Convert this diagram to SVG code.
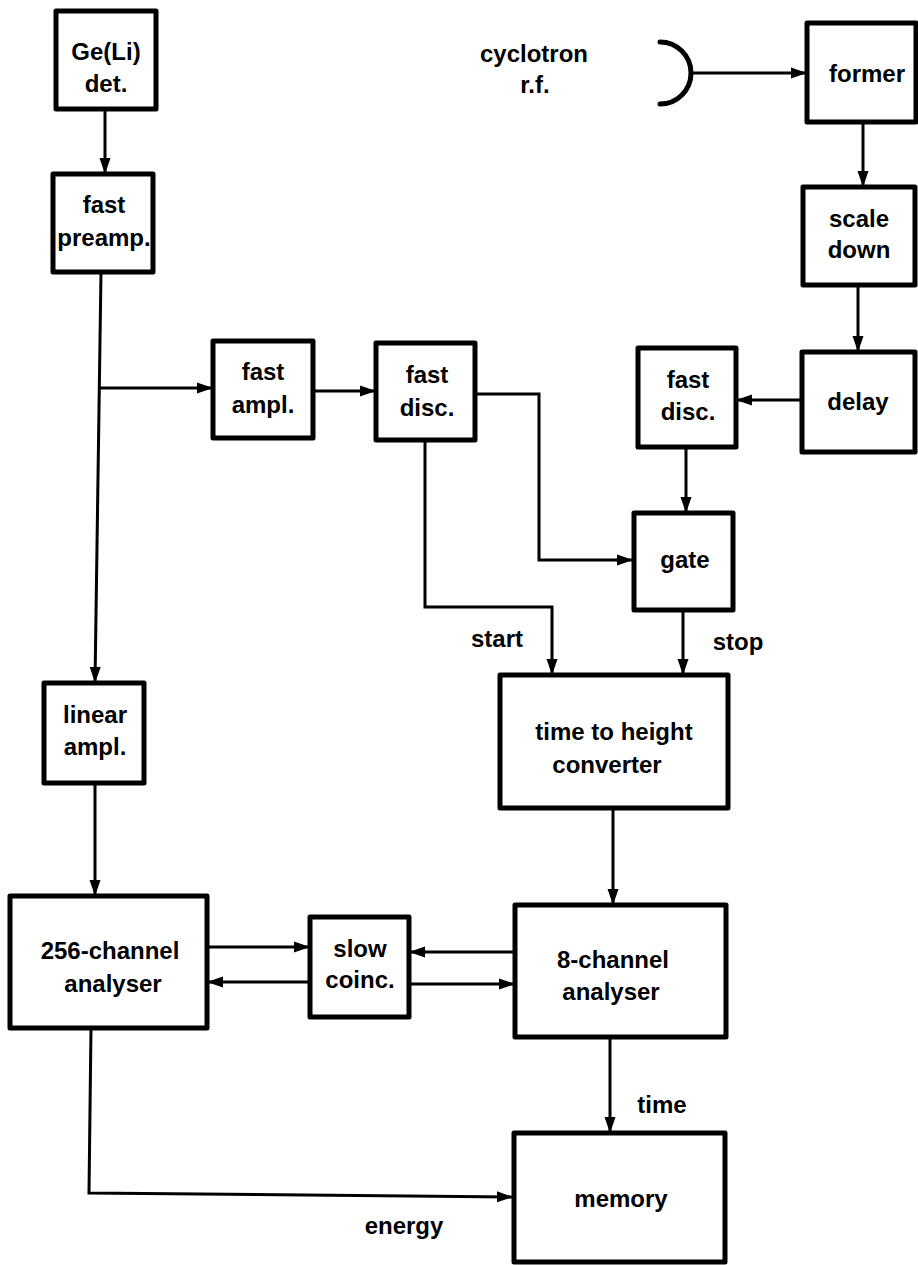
<svg xmlns="http://www.w3.org/2000/svg" width="918" height="1265" viewBox="0 0 918 1265">
<defs>
<marker id="ah" markerUnits="userSpaceOnUse" markerWidth="18" markerHeight="12" refX="16" refY="6" orient="auto">
<path d="M0,0.5 L16,6 L0,11.5 Z" fill="#000"/>
</marker>
<style>
.box{fill:#fff;stroke:#000;stroke-width:5;stroke-linejoin:round}
.c{fill:none;stroke:#000;stroke-width:3;marker-end:url(#ah)}
text{font-family:"Liberation Sans",Arial,sans-serif;font-weight:bold;font-size:24px;fill:#000;text-anchor:middle}
</style>
</defs>
<rect width="918" height="1265" fill="#fff"/>
<g id="connectors">
<path class="c" d="M105,110 L105,174"/>
<path class="c" d="M101,272 L95,683"/>
<path class="c" d="M100,388 L213,388"/>
<path class="c" d="M313,391 L376,391"/>
<path class="c" d="M475,394 L539,394 L539,560 L633,560"/>
<path class="c" d="M425,440 L425,607 L552,607 L552,675"/>
<path class="c" d="M690,73 L807,73"/>
<path class="c" d="M863,122 L863,187"/>
<path class="c" d="M858,285 L858,352"/>
<path class="c" d="M802,400 L736,400"/>
<path class="c" d="M686,447 L686,513"/>
<path class="c" d="M683,610 L683,675"/>
<path class="c" d="M613,808 L613,905"/>
<path class="c" d="M95,783 L95,896"/>
<path class="c" d="M207,947 L310,947"/>
<path class="c" d="M515,952 L409,952"/>
<path class="c" d="M310,982 L207,982"/>
<path class="c" d="M408,984 L515,984"/>
<path class="c" d="M610,1037 L610,1133"/>
<path class="c" d="M91,1028 L89,1193 L513,1197"/>
</g>
<g id="rf">
<path d="M660,42 A31,31 0 0 1 660,104" fill="none" stroke="#000" stroke-width="5" stroke-linecap="round"/>
<text x="534" y="62">cyclotron</text>
<text x="535" y="93">r.f.</text>
</g>
<g id="geli"><rect class="box" x="56" y="11" width="100" height="98"/><text x="106" y="60">Ge(Li)</text><text x="106" y="92">det.</text></g>
<g id="preamp"><rect class="box" x="53" y="174" width="100" height="98"/><text x="104" y="213">fast</text><text x="104" y="246">preamp.</text></g>
<g id="fastampl"><rect class="box" x="213" y="341" width="100" height="97"/><text x="263" y="380">fast</text><text x="263" y="413">ampl.</text></g>
<g id="fastdisc1"><rect class="box" x="376" y="343" width="99" height="97"/><text x="427" y="383">fast</text><text x="427" y="416">disc.</text></g>
<g id="former"><rect class="box" x="807" y="23" width="109" height="99"/><text x="867" y="82">former</text></g>
<g id="scaledown"><rect class="box" x="803" y="187" width="112" height="98"/><text x="859" y="227">scale</text><text x="859" y="258">down</text></g>
<g id="delay"><rect class="box" x="802" y="352" width="113" height="100"/><text x="858" y="410">delay</text></g>
<g id="fastdisc2"><rect class="box" x="638" y="348" width="98" height="99"/><text x="688" y="388">fast</text><text x="688" y="420">disc.</text></g>
<g id="gate"><rect class="box" x="634" y="513" width="99" height="97"/><text x="685" y="568">gate</text></g>
<g id="labels">
<text x="497" y="647">start</text>
<text x="738" y="650">stop</text>
<text x="662" y="1113">time</text>
<text x="404" y="1234">energy</text>
</g>
<g id="tth"><rect class="box" x="500" y="675" width="228" height="133"/><text x="614" y="740">time to height</text><text x="607" y="773">converter</text></g>
<g id="linear"><rect class="box" x="44" y="683" width="100" height="100"/><text x="95" y="723">linear</text><text x="95" y="755">ampl.</text></g>
<g id="ch256"><rect class="box" x="10" y="896" width="197" height="132"/><text x="110" y="959">256-channel</text><text x="113" y="992">analyser</text></g>
<g id="coinc"><rect class="box" x="310" y="917" width="99" height="100"/><text x="360" y="957">slow</text><text x="360" y="988">coinc.</text></g>
<g id="ch8"><rect class="box" x="515" y="905" width="211" height="132"/><text x="613" y="968">8-channel</text><text x="611" y="1000">analyser</text></g>
<g id="memory"><rect class="box" x="514" y="1133" width="211" height="129"/><text x="621" y="1207">memory</text></g>
</svg>
